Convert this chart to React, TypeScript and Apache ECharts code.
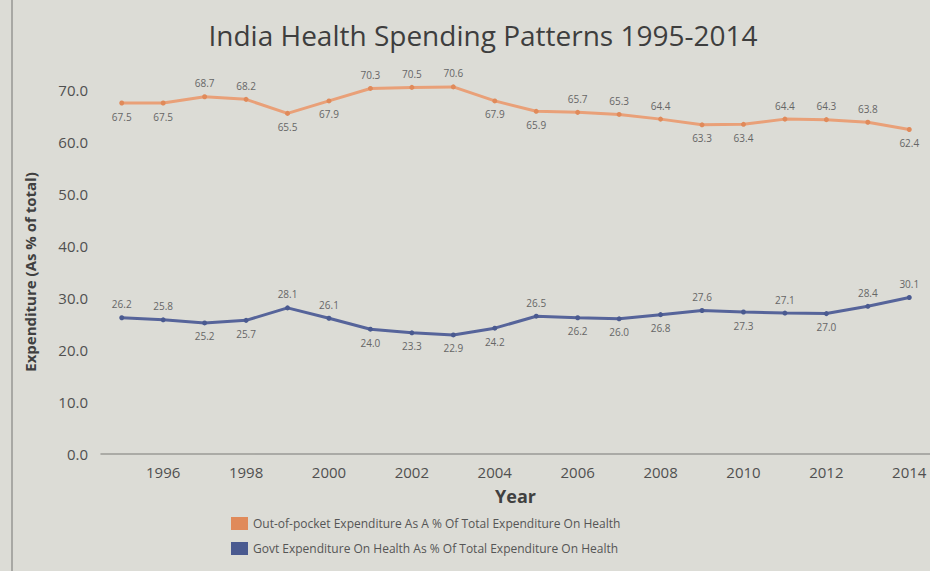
import React, { useEffect, useRef } from "react";
import * as echarts from "echarts";

const years = ["1995","1996","1997","1998","1999","2000","2001","2002","2003","2004","2005","2006","2007","2008","2009","2010","2011","2012","2013","2014"];
const outOfPocket = [67.5, 67.5, 68.7, 68.2, 65.5, 67.9, 70.3, 70.5, 70.6, 67.9, 65.9, 65.7, 65.3, 64.4, 63.3, 63.4, 64.4, 64.3, 63.8, 62.4];
const govt = [26.2, 25.8, 25.2, 25.7, 28.1, 26.1, 24.0, 23.3, 22.9, 24.2, 26.5, 26.2, 26.0, 26.8, 27.6, 27.3, 27.1, 27.0, 28.4, 30.1];
const oopLabelSide = ["bottom","bottom","top","top","bottom","bottom","top","top","top","bottom","bottom","top","top","top","bottom","bottom","top","top","top","bottom"];
const govtLabelSide = ["top","top","bottom","bottom","top","top","bottom","bottom","bottom","bottom","top","bottom","bottom","bottom","top","bottom","top","bottom","top","top"];
const seriesNames = [
  "Out-of-pocket Expenditure As A % Of Total Expenditure On Health",
  "Govt Expenditure On Health As % Of Total Expenditure On Health",
];

export default function App() {
  const ref = useRef<HTMLDivElement>(null);
  useEffect(() => {
    if (!ref.current) return;
    const chart = echarts.init(ref.current, null, { renderer: "svg" });
    const font = "'Open Sans', 'Liberation Sans', sans-serif";
    const mk = (vals: number[], sides: string[]) =>
      vals.map((v, i) => ({ value: v, label: { position: sides[i] } }));
    chart.setOption({
      animation: false,
      backgroundColor: "#dcdcd6",
      textStyle: { fontFamily: font },
      title: {
        text: "India Health Spending Patterns 1995-2014",
        left: 478,
        top: 16,
        textAlign: "center",
        textStyle: { fontFamily: font, fontSize: 28, fontWeight: "normal", color: "#3e3e3e" },
      },
      legend: {
        orient: "vertical",
        left: 226,
        top: 512,
        itemWidth: 17,
        itemHeight: 13,
        itemGap: 12,
        icon: "rect",
        textStyle: { fontFamily: font, fontSize: 12, color: "#555" },
        data: seriesNames,
      },
      grid: { left: 101, right: 0, top: 90, bottom: 117 },
      xAxis: {
        type: "category",
        data: years,
        boundaryGap: true,
        name: "Year",
        nameLocation: "middle",
        nameGap: 33,
        nameTextStyle: { fontFamily: font, fontSize: 18, fontWeight: "bold", color: "#404040" },
        axisLine: { lineStyle: { color: "#9a9a96", width: 1.5 } },
        axisTick: { show: false },
        axisLabel: {
          interval: (i: number) => i % 2 === 1,
          fontSize: 15,
          color: "#505050",
          margin: 10,
          fontFamily: font,
        },
      },
      yAxis: {
        type: "value",
        min: 0,
        max: 70,
        interval: 10,
        name: "Expenditure (As % of total)",
        nameLocation: "middle",
        nameGap: 64,
        nameTextStyle: { fontFamily: font, fontSize: 15, fontWeight: "bold", color: "#404040" },
        axisLine: { show: false },
        axisTick: { show: false },
        splitLine: { show: false },
        axisLabel: {
          formatter: (v: number) => v.toFixed(1),
          fontSize: 15,
          color: "#505050",
          margin: 13,
          fontFamily: font,
        },
      },
      graphic: [
        { type: "line", shape: { x1: 12, y1: 0, x2: 12, y2: 571 }, style: { stroke: "#a8a8a4", lineWidth: 2 } },
      ],
      series: [
        {
          name: seriesNames[0],
          type: "line",
          clip: false,
          data: mk(outOfPocket, oopLabelSide),
          symbol: "circle",
          symbolSize: 5,
          itemStyle: { color: "#e08a5a" },
          lineStyle: { color: "#e9a078", width: 3 },
          label: { show: true, fontSize: 10, color: "#666", distance: 6, formatter: (p: any) => p.value.toFixed(1) },
        },
        {
          name: seriesNames[1],
          type: "line",
          clip: false,
          data: mk(govt, govtLabelSide),
          symbol: "circle",
          symbolSize: 5,
          itemStyle: { color: "#4a5a90" },
          lineStyle: { color: "#56649a", width: 3 },
          label: { show: true, fontSize: 10, color: "#666", distance: 6, formatter: (p: any) => p.value.toFixed(1) },
        },
      ],
    });
    return () => chart.dispose();
  }, []);
  return <div ref={ref} style={{ position: "absolute", left: 0, top: 0, width: 930, height: 571 }} />;
}
